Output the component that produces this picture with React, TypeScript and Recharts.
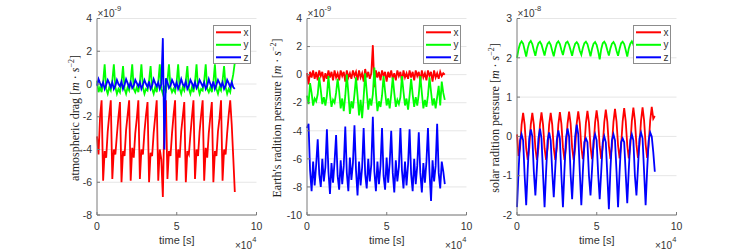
import React from 'react';
import { LineChart, Line, XAxis, YAxis, CartesianGrid, Legend } from 'recharts';

const TIME = [
  0, 960, 1920, 2880, 3840, 4800,
  5760, 6720, 7680, 8640, 9600, 10560,
  11520, 12480, 13440, 14400, 15360, 16320,
  17280, 18240, 19200, 20160, 21120, 22080,
  23040, 24000, 24960, 25920, 26880, 27840,
  28800, 29760, 30720, 31680, 32640, 33600,
  34560, 35520, 36480, 37440, 38400, 39360,
  40320, 41280, 42240, 43200, 44160, 45120,
  46080, 47040, 48000, 48960, 49920, 50880,
  51840, 52800, 53760, 54720, 55680, 56640,
  57600, 58560, 59520, 60480, 61440, 62400,
  63360, 64320, 65280, 66240, 67200, 68160,
  69120, 70080, 71040, 72000, 72960, 73920,
  74880, 75840, 76800, 77760, 78720, 79680,
  80640, 81600, 82560, 83520, 84480, 85440,
  86400,
];

// atmospheric drag (x1e-9)
const ATM_X = [
  -3.2, -4.3, -2.0, -1.0, -5.9, -4.1,
  -4.5, -2.9, -1.9, -1.0, -5.8, -4.0,
  -4.3, -3.1, -2.0, -1.1, -6.0, -4.1,
  -4.4, -2.8, -1.9, -1.0, -5.9, -3.9,
  -4.5, -3.0, -2.1, -1.0, -5.8, -4.0,
  -4.3, -2.9, -1.9, -1.1, -6.0, -4.2,
  -4.4, -3.0, -2.0, -1.0, -5.9, -4.0,
  -4.6, -6.9, -2.1, -1.0, -5.8, -4.1,
  -4.4, -3.0, -1.9, -1.0, -5.9, -4.0,
  -4.5, -2.9, -2.0, -1.1, -6.0, -4.1,
  -4.3, -3.1, -2.0, -1.0, -5.8, -4.0,
  -4.4, -2.9, -1.9, -1.0, -5.9, -3.9,
  -4.5, -3.0, -2.0, -1.1, -6.0, -4.1,
  -4.4, -2.9, -2.1, -1.0, -5.9, -4.0,
  -4.3, -3.0, -1.9, -1.0, -2.5, -4.5,
  -6.6,
];
const ATM_Y = [
  0.2, -0.5, -0.2, -0.5, 0.1, 1.2,
  -0.3, -0.6, -0.2, -0.4, 0.2, 1.2,
  -0.2, -0.6, -0.3, -0.5, 0.1, 1.1,
  -0.3, -0.6, -0.2, -0.4, 0.2, 1.2,
  -0.3, -0.5, -0.2, -0.5, 0.1, 1.2,
  -0.2, -0.6, -0.3, -0.4, 0.2, 1.1,
  -0.3, -0.6, -0.2, -0.5, 0.1, 1.2,
  -0.3, -0.6, -0.2, -0.4, 0.2, 1.2,
  -0.2, -0.5, -0.3, -0.5, 0.1, 1.2,
  -0.3, -0.6, -0.2, -0.4, 0.2, 1.1,
  -0.3, -0.6, -0.2, -0.5, 0.1, 1.2,
  -0.2, -0.6, -0.3, -0.4, 0.2, 1.2,
  -0.3, -0.5, -0.2, -0.5, 0.1, 1.2,
  -0.3, -0.6, -0.2, -0.4, 0.2, 1.1,
  -0.2, -0.6, -0.3, -0.5, 0.1, 0.6,
  1.3,
];
const ATM_Z = [
  -0.1, 0.3, 0.05, -0.15, 0.1, -0.3,
  -0.05, 0.25, 0.05, -0.2, 0.1, -0.3,
  -0.1, 0.25, 0.0, -0.15, 0.15, -0.3,
  -0.05, 0.3, 0.05, -0.2, 0.1, -0.25,
  -0.1, 0.25, 0.05, -0.15, 0.1, -0.3,
  -0.05, 0.25, 0.0, -0.2, 0.15, -0.3,
  -0.1, 0.3, 0.05, -0.15, 0.1, -0.3,
  0.0, 2.8, -4.0, 0.35, 0.1, -0.25,
  -0.1, 0.25, 0.05, -0.2, 0.1, -0.3,
  -0.05, 0.3, 0.0, -0.15, 0.15, -0.3,
  -0.1, 0.25, 0.05, -0.2, 0.1, -0.25,
  -0.05, 0.25, 0.05, -0.15, 0.1, -0.3,
  -0.1, 0.3, 0.0, -0.2, 0.15, -0.3,
  -0.05, 0.25, 0.05, -0.15, 0.1, -0.3,
  -0.1, 0.25, 0.05, -0.2, 0.1, -0.2,
  -0.3,
];

// Earth's radiation pressure (x1e-9)
const ERP_X = [
  0.1, -0.7, 0.2, -0.2, 0.3, -0.3,
  0.2, -0.4, 0.3, -0.1, 0.2, -0.5,
  0.1, -0.3, 0.3, -0.2, 0.2, -0.4,
  0.3, -0.2, 0.1, -0.4, 0.3, -0.1,
  0.2, -0.5, 0.3, -0.2, 0.1, -0.3,
  0.3, -0.1, 0.2, -0.4, 0.3, -0.2,
  0.1, -0.5, 0.4, -0.2, 0.2, -0.3,
  0.1, 2.1, -0.9, 0.3, -0.2, 0.2,
  -0.4, 0.3, -0.1, 0.2, -0.5, 0.2,
  -0.2, 0.3, -0.3, 0.1, -0.4, 0.3,
  -0.1, 0.2, -0.5, 0.3, -0.2, 0.1,
  -0.3, 0.3, -0.2, 0.2, -0.4, 0.3,
  -0.1, 0.2, -0.5, 0.3, -0.2, 0.1,
  -0.4, 0.3, -0.1, 0.2, -0.5, 0.3,
  -0.2, 0.1, -0.3, 0.2, -0.1, 0.1,
  0.0,
];
const ERP_Y = [
  -1.5, -2.1, -0.6, -1.3, -2.2, -1.7,
  -1.9, -1.4, -0.2, -1.1, -2.1, -1.6,
  -2.2, -1.5, -0.1, -1.4, -2.3, -1.8,
  -2.0, -1.3, -0.3, -1.2, -2.4, -1.7,
  -2.6, -1.5, 0.0, -1.3, -2.8, -1.9,
  -2.4, -1.4, -0.2, -1.5, -2.9, -1.8,
  -3.1, -1.6, 0.1, -1.2, -2.5, -1.7,
  -2.2, -1.4, 0.5, -1.3, -2.6, -1.9,
  -2.3, -1.5, -0.1, -1.2, -2.2, -1.7,
  -2.4, -1.4, -0.2, -1.3, -2.3, -1.8,
  -2.1, -1.6, -0.1, -1.2, -2.2, -1.7,
  -2.5, -1.5, -0.3, -1.4, -2.3, -1.6,
  -2.2, -1.4, -0.1, -1.3, -2.4, -1.8,
  -2.3, -1.5, -0.2, -1.2, -2.2, -1.7,
  -2.4, -1.6, -0.8, -2.2, -0.5, -1.3,
  -1.8,
];
const ERP_Z = [
  -3.8, -3.5, -6.8, -8.3, -6.2, -7.9,
  -6.4, -4.6, -7.1, -8.0, -6.0, -7.6,
  -6.6, -3.9, -6.9, -8.5, -6.3, -7.7,
  -6.2, -4.3, -7.2, -8.2, -6.1, -7.8,
  -6.5, -3.7, -7.0, -8.3, -5.9, -7.5,
  -6.3, -3.6, -6.8, -8.6, -6.2, -7.9,
  -6.6, -3.8, -7.1, -8.1, -6.0, -7.6,
  -6.4, -3.0, -6.9, -8.3, -6.2, -7.8,
  -6.5, -3.8, -7.2, -8.2, -5.9, -7.7,
  -6.3, -4.0, -7.0, -8.4, -6.1, -7.6,
  -6.6, -3.8, -6.8, -8.1, -6.2, -7.9,
  -6.4, -3.9, -7.1, -8.3, -6.0, -7.8,
  -6.5, -4.1, -7.0, -8.4, -6.3, -7.7,
  -6.2, -3.8, -6.9, -9.0, -6.1, -7.6,
  -6.5, -3.5, -7.0, -8.1, -6.2, -6.9,
  -7.8,
];

// solar radiation pressure (x1e-8)
const SRP_X = [
  0.05, -0.5, -0.3, 0.3, 0.6, 0.3,
  -0.3, -0.6, -0.3, 0.3, 0.6, 0.3,
  -0.3, -0.6, -0.3, 0.3, 0.61, 0.3,
  -0.3, -0.6, -0.3, 0.3, 0.6, 0.3,
  -0.3, -0.6, -0.3, 0.3, 0.62, 0.32,
  -0.28, -0.6, -0.28, 0.32, 0.63, 0.33,
  -0.28, -0.6, -0.28, 0.33, 0.64, 0.34,
  -0.27, -0.58, -0.27, 0.34, 0.65, 0.35,
  -0.26, -0.58, -0.26, 0.35, 0.66, 0.36,
  -0.25, -0.57, -0.25, 0.36, 0.68, 0.37,
  -0.24, -0.57, -0.24, 0.37, 0.7, 0.38,
  -0.23, -0.56, -0.23, 0.38, 0.72, 0.39,
  -0.22, -0.56, -0.22, 0.39, 0.73, 0.4,
  -0.21, -0.55, -0.21, 0.4, 0.74, 0.41,
  -0.2, -0.55, -0.2, 0.41, 0.75, 0.45,
  0.52,
];
const SRP_Y = [
  2.0, 2.22, 2.36, 2.42, 2.36, 2.2,
  2.03, 2.24, 2.38, 2.43, 2.35, 2.19,
  2.05, 2.25, 2.37, 2.41, 2.34, 2.2,
  2.06, 2.24, 2.36, 2.4, 2.33, 2.18,
  2.04, 2.23, 2.37, 2.42, 2.35, 2.2,
  2.07, 2.25, 2.38, 2.41, 2.33, 2.19,
  2.05, 2.24, 2.36, 2.4, 2.34, 2.18,
  2.08, 2.25, 2.37, 2.41, 2.35, 2.2,
  2.04, 2.23, 2.36, 2.4, 2.33, 2.17,
  1.96, 2.22, 2.37, 2.41, 2.34, 2.19,
  2.06, 2.24, 2.36, 2.4, 2.33, 2.18,
  2.05, 2.23, 2.37, 2.41, 2.35, 2.2,
  2.03, 2.24, 2.36, 2.42, 2.34, 2.19,
  2.05, 2.23, 2.37, 2.41, 2.33, 2.18,
  2.04, 2.24, 2.36, 2.4, 2.34, 2.2,
  2.05,
];
const SRP_Z = [
  -1.8, -0.9, -0.1, 0.05, -0.1, -1.0,
  -1.75, -0.85, -0.05, 0.18, 0.0, -0.9,
  -1.5, -0.8, -0.05, 0.2, -0.05, -0.95,
  -1.8, -0.9, -0.1, 0.1, -0.1, -0.9,
  -1.55, -0.8, -0.1, 0.15, -0.05, -1.0,
  -1.8, -0.85, -0.05, 0.2, 0.0, -0.95,
  -1.6, -0.8, 0.0, 0.3, 0.05, -0.9,
  -1.75, -0.9, -0.15, -0.05, -0.15, -1.0,
  -1.5, -0.85, -0.1, 0.05, -0.1, -0.95,
  -1.6, -0.9, -0.15, 0.0, -0.15, -1.0,
  -1.85, -0.85, -0.1, 0.05, -0.1, -0.9,
  -1.8, -0.9, -0.15, -0.05, -0.15, -0.95,
  -1.7, -0.85, -0.1, 0.05, -0.1, -1.0,
  -1.5, -0.8, -0.05, 0.1, -0.05, -0.9,
  -1.75, -0.85, -0.1, 0.1, 0.0, -0.4,
  -0.9,
];

const SERIES_NAMES = ['x', 'y', 'z'];
const COLORS = ['#ff0000', '#00ff00', '#0000ff'];
const X_TICKS = [0, 50000, 100000];
const ATM_TICKS = [-8, -6, -4, -2, 0, 2, 4];
const ERP_TICKS = [-10, -8, -6, -4, -2, 0, 2, 4];
const SRP_TICKS = [-2, -1, 0, 1, 2, 3];
const Y_TITLES = ["atmospheric drag ", "Earth's radition perssure ", 'solar radition perssure '];
const Y_EXPONENTS = ['-9', '-9', '-8'];
const X_TITLE = 'time [s]';
const X_EXPONENT = '4';

const SANS = '"Liberation Sans", Arial, Helvetica, sans-serif';
const SERIF = '"Liberation Serif", "Times New Roman", serif';
const AXIS = '#7a7a7a';
const TEXT = '#333333';

const CHART_W = 210;
const CHART_H = 249;
const YAXIS_W = 40;
const MARGIN = { top: 18.5, right: 10.5, bottom: 14, left: 0 };
const XAXIS_H = 20;
const PANEL_LEFTS = [57, 267, 477];

function buildRows(xs: number[], ys: number[], zs: number[]) {
  return TIME.map((t, i) => ({ t, x: xs[i], y: ys[i], z: zs[i] }));
}

const PANELS = [
  { rows: buildRows(ATM_X, ATM_Y, ATM_Z), domain: [-8, 4], ticks: ATM_TICKS },
  { rows: buildRows(ERP_X, ERP_Y, ERP_Z), domain: [-10, 4], ticks: ERP_TICKS },
  { rows: buildRows(SRP_X, SRP_Y, SRP_Z), domain: [-2, 3], ticks: SRP_TICKS },
];

const LegendBox = (props: any) => {
  const payload = props.payload || [];
  return (
    <div style={{ width: 38, height: 39, boxSizing: 'border-box', border: '1px solid #8c8c8c', background: '#ffffff' }}>
      <svg width={36} height={37} style={{ display: 'block' }}>
        {payload.map((p: any, i: number) => (
          <g key={i}>
            <line x1={2} x2={27} y1={6.3 + i * 12.5} y2={6.3 + i * 12.5} stroke={p.color} strokeWidth={2} />
            <text x={29.5} y={6.3 + i * 12.5 + 3.6} fontSize={10} fontFamily={SANS} fill={TEXT}>{p.value}</text>
          </g>
        ))}
      </svg>
    </div>
  );
};

function Panel({ idx }: { idx: number }) {
  const p = PANELS[idx];
  return (
    <div style={{ position: 'absolute', left: PANEL_LEFTS[idx], top: 0 }}>
      <LineChart width={CHART_W} height={CHART_H} data={p.rows} margin={MARGIN}>
        <CartesianGrid vertical={false} stroke="#e6e6e6" />
        <XAxis
          dataKey="t"
          type="number"
          domain={[0, 100000]}
          ticks={X_TICKS}
          interval={0}
          tickFormatter={(v: number) => String(v / 10000)}
          height={XAXIS_H}
          tickSize={-3}
          tickMargin={10.4}
          stroke={AXIS}
          tick={{ fill: TEXT, fontSize: 10.5, fontFamily: SANS }}
        />
        <XAxis
          xAxisId="top"
          orientation="top"
          dataKey="t"
          type="number"
          domain={[0, 100000]}
          ticks={X_TICKS}
          interval={0}
          height={0}
          tick={false}
          tickSize={-3}
          stroke={AXIS}
        />
        <YAxis
          type="number"
          domain={p.domain}
          ticks={p.ticks}
          interval={0}
          width={YAXIS_W}
          tickSize={-3}
          tickMargin={8}
          stroke={AXIS}
          tick={{ fill: TEXT, fontSize: 10.5, fontFamily: SANS }}
        />
        <YAxis
          yAxisId="right"
          orientation="right"
          type="number"
          domain={p.domain}
          ticks={p.ticks}
          interval={0}
          width={0}
          tick={false}
          tickSize={-3}
          stroke={AXIS}
        />
        <Legend
          layout="vertical"
          align="center"
          verticalAlign="middle"
          content={LegendBox}
          wrapperStyle={{ left: 155.5, top: 25, width: 38, height: 39, margin: 0, padding: 0 }}
        />
        {SERIES_NAMES.map((s, i) => (
          <Line
            key={s}
            type="linear"
            dataKey={s}
            name={s}
            stroke={COLORS[i]}
            strokeWidth={1.8}
            dot={false}
            activeDot={false}
            isAnimationActive={false}
          />
        ))}
      </LineChart>
    </div>
  );
}

function Annotations() {
  const plotLeft = (i: number) => PANEL_LEFTS[i] + YAXIS_W;
  const plotW = CHART_W - YAXIS_W - MARGIN.right;
  const titleX = [78.5, 280.5, 498.5];
  return (
    <svg width={747} height={249} style={{ position: 'absolute', left: 0, top: 0, pointerEvents: 'none' }}>
      {[0, 1, 2].map((i) => (
        <g key={i}>
          <text
            transform={`translate(${titleX[i]},118) rotate(-90)`}
            textAnchor="middle"
            fontFamily={SERIF}
            fontSize={12}
            fill="#222"
          >
            {Y_TITLES[i]}[<tspan fontStyle="italic">m</tspan> · <tspan fontStyle="italic">s</tspan>
            <tspan dy={-4.5} fontSize={8}>−2</tspan>
            <tspan dy={4.5}>]</tspan>
          </text>
          <text x={plotLeft(i) + 0.5} y={17} fontFamily={SANS} fontSize={10} fill={TEXT}>
            ×10<tspan dy={-6.5} fontSize={7.5}>{Y_EXPONENTS[i]}</tspan>
          </text>
          <text x={plotLeft(i) + plotW / 2} y={244.3} textAnchor="middle" fontFamily={SANS} fontSize={11} fill={TEXT}>
            {X_TITLE}
          </text>
          <text x={plotLeft(i) + plotW - 4.5} y={248.5} textAnchor="end" fontFamily={SANS} fontSize={10} fill={TEXT}>
            ×10
          </text>
          <text x={plotLeft(i) + plotW - 4.3} y={242} fontFamily={SANS} fontSize={7.5} fill={TEXT}>
            {X_EXPONENT}
          </text>
        </g>
      ))}
    </svg>
  );
}

export default function App() {
  return (
    <div style={{ position: 'absolute', left: 0, top: 0, width: 747, height: 249, background: '#ffffff', overflow: 'hidden' }}>
      <Panel idx={0} />
      <Panel idx={1} />
      <Panel idx={2} />
      <Annotations />
    </div>
  );
}
